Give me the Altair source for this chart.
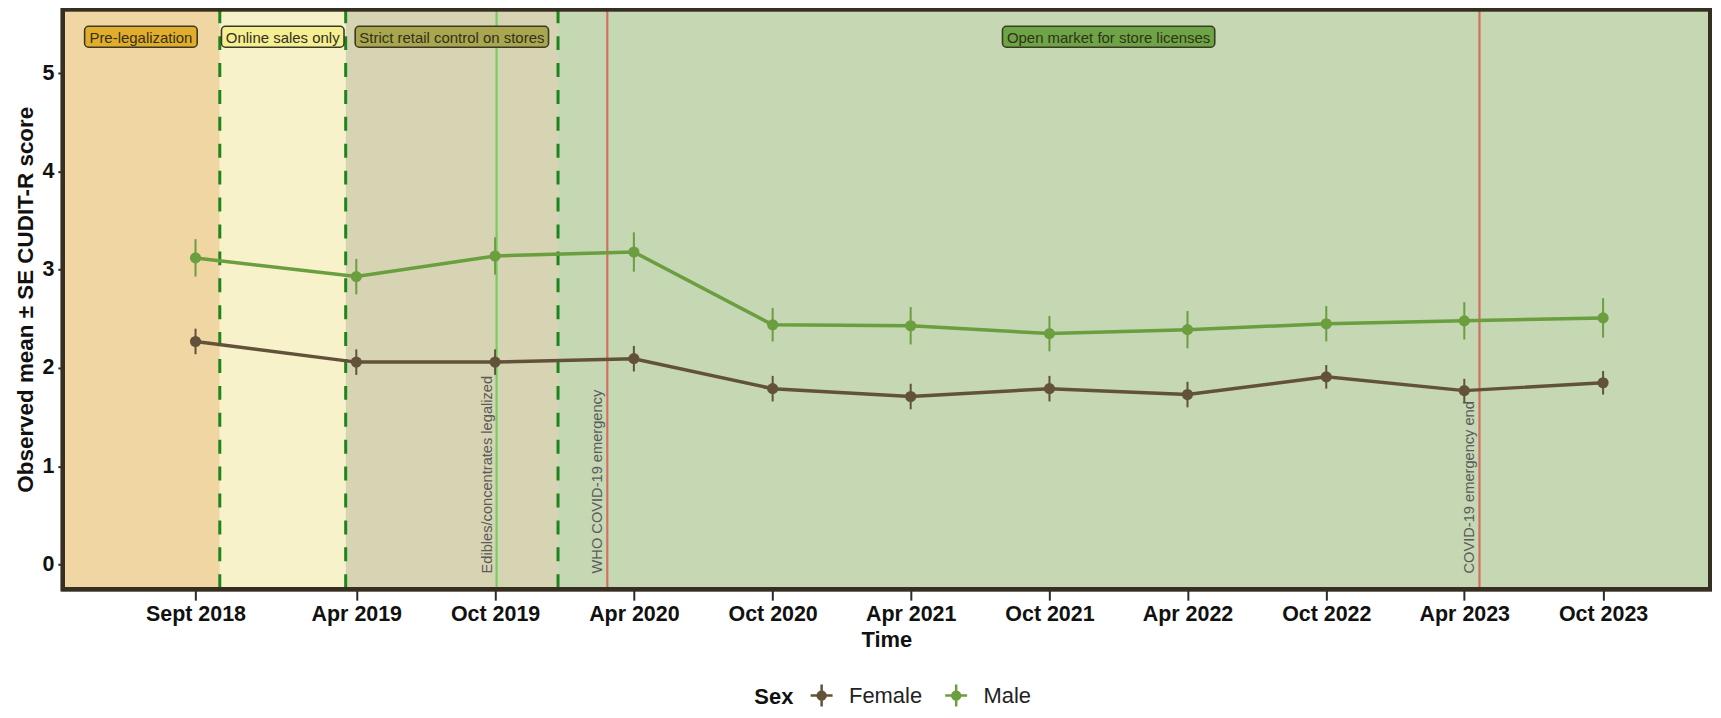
import altair as alt
import pandas as pd

# ---------------- data ----------------
survey_dates = ["2018-09-15", "2019-04-15", "2019-10-15", "2020-04-15", "2020-10-15",
                "2021-04-15", "2021-10-15", "2022-04-15", "2022-10-15", "2023-04-15", "2023-10-15"]
tick_labels = ["Sept 2018", "Apr 2019", "Oct 2019", "Apr 2020", "Oct 2020", "Apr 2021",
               "Oct 2021", "Apr 2022", "Oct 2022", "Apr 2023", "Oct 2023"]

female_mean = [2.27, 2.06, 2.06, 2.095, 1.79, 1.71, 1.79, 1.73, 1.91, 1.77, 1.85]
female_se = [0.13, 0.13, 0.13, 0.13, 0.13, 0.13, 0.13, 0.13, 0.12, 0.12, 0.12]
male_mean = [3.12, 2.93, 3.14, 3.18, 2.44, 2.43, 2.35, 2.39, 2.45, 2.48, 2.51]
male_se = [0.19, 0.18, 0.19, 0.20, 0.17, 0.19, 0.18, 0.19, 0.18, 0.19, 0.20]

period_names = ["Pre-legalization", "Online sales only",
                "Strict retail control on stores", "Open market for store licenses"]
period_starts = ["2018-03-24", "2018-10-17", "2019-04-01", "2020-01-06"]
period_ends = ["2018-10-17", "2019-04-01", "2020-01-06", "2024-03-04"]
period_label_dates = ["2018-07-05", "2019-01-08", "2019-08-19", "2022-01-01"]
period_label_y = [5.37, 5.37, 5.37, 5.37]

boundary_dates = ["2018-10-17", "2019-04-01", "2020-01-06"]

event_dates = ["2019-10-17", "2020-03-11", "2023-05-05"]
event_labels = ["Edibles/concentrates legalized", "WHO COVID-19 emergency", "COVID-19 emergency end"]
event_kind = ["edibles", "covid", "covid"]
event_text_y = [-0.09, -0.09, -0.09]

# ---------------- styles ----------------
W, H = 1653, 582
FONT = "Liberation Sans"
FS = 22
bg_colors = ["#EFD6A2", "#F7F2CA", "#D7D4B4", "#C5D7B3"]
box_fills = ["#E2AD2B", "#F5EE93", "#A8A64F", "#6DA445"]
box_widths = [113, 123, 194, 213]
sex_colors = ["#62523A", "#6A9E3E"]

def ms(d):
    return int(pd.Timestamp(d).value // 10**6)

xscale = alt.Scale(type="utc", domain=[ms(period_starts[0]), ms(period_ends[-1])])
yscale = alt.Scale(domain=[-0.25, 5.65], nice=False, zero=False)

label_expr = ("[" + ",".join(f"'{l}'" for l in tick_labels) + "][indexof(["
              + ",".join(f"'{d[:7]}'" for d in survey_dates)
              + "], utcFormat(datum.value, '%Y-%m'))]")

xaxis = alt.Axis(values=[ms(d) for d in survey_dates], labelExpr=label_expr, title="Time",
                 grid=False, domain=False, tickSize=11, tickWidth=2, tickColor="#2b2b2b",
                 labelFontSize=21.5, labelFontWeight="bold", labelColor="#111111",
                 labelPadding=3, titleFontSize=FS, titleFontWeight="bold",
                 titleColor="#111111", titlePadding=5, labelFlush=False, labelOverlap=False)
yaxis = alt.Axis(values=[0, 1, 2, 3, 4, 5], format="d", title="Observed mean ± SE CUDIT-R score",
                 grid=False, domain=False, tickSize=5, tickWidth=2, tickColor="#2b2b2b",
                 labelFontSize=21.5, labelFontWeight="bold", labelColor="#111111",
                 labelPadding=4, titleFontSize=22.5, titleFontWeight="bold",
                 titleColor="#111111", titlePadding=4)

# ---------------- tables ----------------
periods = pd.DataFrame({"name": period_names, "start": period_starts, "end": period_ends,
                        "ldate": period_label_dates, "ly": period_label_y})
bounds = pd.DataFrame({"date": boundary_dates})
events = pd.DataFrame({"date": event_dates, "label": event_labels, "kind": event_kind,
                       "ty": event_text_y})
rows = []
for sex, means, ses in [("Female", female_mean, female_se), ("Male", male_mean, male_se)]:
    for d, m, s in zip(survey_dates, means, ses):
        rows.append({"date": d, "sex": sex, "mean": m, "lo": m - s, "hi": m + s})
obs = pd.DataFrame(rows)

# ---------------- layers ----------------
bg = alt.Chart(periods).mark_rect().encode(
    x=alt.X("start:T", scale=xscale, axis=xaxis),
    x2="end:T",
    y=alt.value(0), y2=alt.value(H),
    fill=alt.Fill("name:N", scale=alt.Scale(domain=period_names, range=bg_colors), legend=None),
)

dashed = alt.Chart(bounds).mark_rule(color="#1C861C", strokeWidth=3, strokeDash=[14, 13]).encode(
    x=alt.X("date:T", scale=xscale), y=alt.value(0), y2=alt.value(H))

ev_rules = alt.Chart(events).mark_rule(strokeWidth=2.2).encode(
    x=alt.X("date:T", scale=xscale), y=alt.value(0), y2=alt.value(H),
    stroke=alt.Stroke("kind:N", scale=alt.Scale(domain=["edibles", "covid"],
                                                range=["#74CF62", "#D2705C"]), legend=None))

ev_text = alt.Chart(events).mark_text(angle=270, align="left", baseline="bottom", dy=-2,
                                      fontSize=14.7, font=FONT, color="#5a5a5a").encode(
    x=alt.X("date:T", scale=xscale), y=alt.Y("ty:Q", scale=yscale, axis=yaxis), text="label:N")

box_layers = []
for i, name in enumerate(period_names):
    sub = periods[periods["name"] == name]
    w = box_widths[i]
    box_layers.append(alt.Chart(sub).mark_rect(
        xOffset=-w / 2, x2Offset=w / 2, yOffset=-10.5, y2Offset=10.5,
        cornerRadius=4, stroke="#3B3A25", strokeWidth=1.6, fill=box_fills[i]).encode(
        x=alt.X("ldate:T", scale=xscale), x2="ldate:T",
        y=alt.Y("ly:Q", scale=yscale), y2="ly:Q"))
box_text = alt.Chart(periods).mark_text(fontSize=15, font=FONT, color="#33311B",
                                        baseline="middle", dy=1).encode(
    x=alt.X("ldate:T", scale=xscale), y=alt.Y("ly:Q", scale=yscale), text="name:N")

sex_scale = alt.Scale(domain=["Female", "Male"], range=sex_colors)
legend_path = ("M-1,0L1,0M0,-1L0,1"
               "M-0.36,0A0.36,0.36,0,1,0,0.36,0A0.36,0.36,0,1,0,-0.36,0Z"
               "M-0.24,0A0.24,0.24,0,1,0,0.24,0A0.24,0.24,0,1,0,-0.24,0Z"
               "M-0.12,0A0.12,0.12,0,1,0,0.12,0A0.12,0.12,0,1,0,-0.12,0Z")
legend = alt.Legend(
    title="Sex", orient="none", legendX=694, legendY=676, direction="horizontal",
    titleOrient="left", titleFontSize=FS, titleFontWeight="bold", titleColor="#111111",
    titleFont=FONT, titlePadding=15,
    labelFontSize=FS, labelFont=FONT, labelColor="#222222", labelOffset=15,
    columnPadding=17, symbolSize=484, symbolStrokeWidth=2.5, symbolType=legend_path)

errbars = alt.Chart(obs).mark_rule(strokeWidth=2).encode(
    x=alt.X("date:T", scale=xscale), y=alt.Y("lo:Q", scale=yscale), y2="hi:Q",
    color=alt.Color("sex:N", scale=sex_scale, legend=legend))
lines = alt.Chart(obs).mark_line(strokeWidth=3.5).encode(
    x=alt.X("date:T", scale=xscale), y=alt.Y("mean:Q", scale=yscale),
    color=alt.Color("sex:N", scale=sex_scale, legend=legend))
points = alt.Chart(obs).mark_circle(size=125, opacity=1).encode(
    x=alt.X("date:T", scale=xscale), y=alt.Y("mean:Q", scale=yscale),
    color=alt.Color("sex:N", scale=sex_scale, legend=legend))

frame = alt.Chart(periods).mark_rect(fill="transparent", stroke="#372E22", strokeWidth=4).encode(
    x=alt.value(0), x2=alt.value(W), y=alt.value(0), y2=alt.value(H))

chart = alt.layer(bg, dashed, ev_rules, ev_text, *box_layers, box_text,
                  errbars, lines, points, frame).resolve_scale(
    fill="independent", stroke="independent").properties(
    width=W, height=H,
    padding={"left": 55, "top": 0, "right": 3, "bottom": 118},
    autosize=alt.AutoSizeParams(type="none"),
    background="white",
).configure(font=FONT).configure_view(strokeWidth=0)

chart.save("out.html", embed_options={"renderer": "svg", "actions": False})
